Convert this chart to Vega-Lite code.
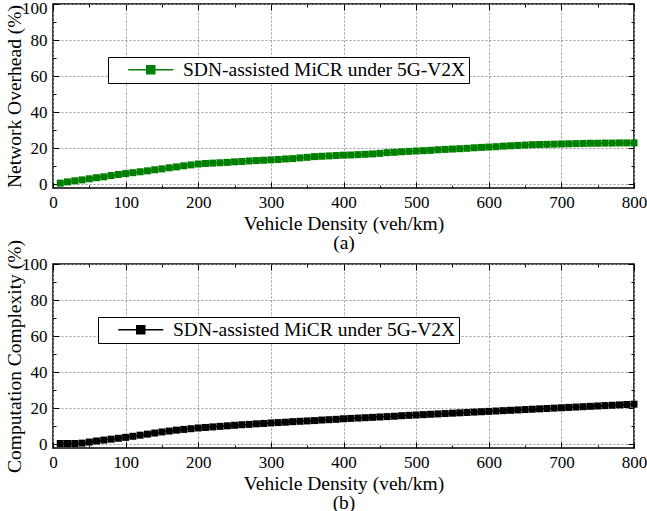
{
  "$schema": "https://vega.github.io/schema/vega-lite/v6.json",
  "padding": {"left": 3, "top": -2, "right": 0, "bottom": 0},
  "config": {
    "font": "Liberation Serif",
    "view": {"stroke": "black", "strokeWidth": 1.5},
    "axis": {
      "labelFont": "Liberation Serif", "labelFontSize": 17, "labelColor": "black",
      "titleFont": "Liberation Serif", "titleFontSize": 19.5, "titleFontWeight": "normal", "titleColor": "black",
      "tickColor": "black", "tickWidth": 1, "domain": false,
      "gridColor": "#9a9a9a", "gridDash": [2, 2], "gridWidth": 1,
      "labelFlush": false, "labelOverlap": false
    }
  },
  "datasets": {
    "overhead": [
      {"density": 10, "value": 0.7}, {"density": 20, "value": 1.4}, {"density": 30, "value": 2.0}, {"density": 40, "value": 2.5},
      {"density": 50, "value": 3.1}, {"density": 60, "value": 3.7}, {"density": 70, "value": 4.2}, {"density": 80, "value": 4.9},
      {"density": 90, "value": 5.5}, {"density": 100, "value": 6.0}, {"density": 110, "value": 6.5}, {"density": 120, "value": 7.0},
      {"density": 130, "value": 7.5}, {"density": 140, "value": 8.1}, {"density": 150, "value": 8.6}, {"density": 160, "value": 9.2},
      {"density": 170, "value": 9.7}, {"density": 180, "value": 10.3}, {"density": 190, "value": 10.8}, {"density": 200, "value": 11.3},
      {"density": 210, "value": 11.6}, {"density": 220, "value": 11.8}, {"density": 230, "value": 12.0}, {"density": 240, "value": 12.2},
      {"density": 250, "value": 12.5}, {"density": 260, "value": 12.7}, {"density": 270, "value": 13.0}, {"density": 280, "value": 13.2},
      {"density": 290, "value": 13.4}, {"density": 300, "value": 13.6}, {"density": 310, "value": 13.8}, {"density": 320, "value": 14.1},
      {"density": 330, "value": 14.3}, {"density": 340, "value": 14.7}, {"density": 350, "value": 15.0}, {"density": 360, "value": 15.4},
      {"density": 370, "value": 15.6}, {"density": 380, "value": 15.8}, {"density": 390, "value": 16.0}, {"density": 400, "value": 16.2},
      {"density": 410, "value": 16.3}, {"density": 420, "value": 16.5}, {"density": 430, "value": 16.7}, {"density": 440, "value": 16.9},
      {"density": 450, "value": 17.2}, {"density": 460, "value": 17.6}, {"density": 470, "value": 17.8}, {"density": 480, "value": 18.1},
      {"density": 490, "value": 18.3}, {"density": 500, "value": 18.5}, {"density": 510, "value": 18.7}, {"density": 520, "value": 18.9},
      {"density": 530, "value": 19.2}, {"density": 540, "value": 19.4}, {"density": 550, "value": 19.6}, {"density": 560, "value": 19.8},
      {"density": 570, "value": 20.0}, {"density": 580, "value": 20.3}, {"density": 590, "value": 20.5}, {"density": 600, "value": 20.7},
      {"density": 610, "value": 20.9}, {"density": 620, "value": 21.2}, {"density": 630, "value": 21.4}, {"density": 640, "value": 21.6},
      {"density": 650, "value": 21.8}, {"density": 660, "value": 22.0}, {"density": 670, "value": 22.1}, {"density": 680, "value": 22.2},
      {"density": 690, "value": 22.3}, {"density": 700, "value": 22.4}, {"density": 710, "value": 22.5}, {"density": 720, "value": 22.6},
      {"density": 730, "value": 22.7}, {"density": 740, "value": 22.8}, {"density": 750, "value": 22.8}, {"density": 760, "value": 22.9},
      {"density": 770, "value": 22.9}, {"density": 780, "value": 23.0}, {"density": 790, "value": 23.0}, {"density": 800, "value": 23.0}
    ],
    "complexity": [
      {"density": 10, "value": 0.5}, {"density": 20, "value": 0.5}, {"density": 30, "value": 0.5}, {"density": 40, "value": 0.7},
      {"density": 50, "value": 1.3}, {"density": 60, "value": 1.9}, {"density": 70, "value": 2.4}, {"density": 80, "value": 2.9},
      {"density": 90, "value": 3.4}, {"density": 100, "value": 3.9}, {"density": 110, "value": 4.5}, {"density": 120, "value": 5.1},
      {"density": 130, "value": 5.7}, {"density": 140, "value": 6.3}, {"density": 150, "value": 6.9}, {"density": 160, "value": 7.4},
      {"density": 170, "value": 7.9}, {"density": 180, "value": 8.3}, {"density": 190, "value": 8.7}, {"density": 200, "value": 9.1},
      {"density": 210, "value": 9.4}, {"density": 220, "value": 9.7}, {"density": 230, "value": 10.0}, {"density": 240, "value": 10.3},
      {"density": 250, "value": 10.6}, {"density": 260, "value": 10.9}, {"density": 270, "value": 11.1}, {"density": 280, "value": 11.4},
      {"density": 290, "value": 11.6}, {"density": 300, "value": 11.9}, {"density": 310, "value": 12.1}, {"density": 320, "value": 12.3},
      {"density": 330, "value": 12.6}, {"density": 340, "value": 12.8}, {"density": 350, "value": 13.0}, {"density": 360, "value": 13.2},
      {"density": 370, "value": 13.5}, {"density": 380, "value": 13.7}, {"density": 390, "value": 13.9}, {"density": 400, "value": 14.2},
      {"density": 410, "value": 14.4}, {"density": 420, "value": 14.6}, {"density": 430, "value": 14.8}, {"density": 440, "value": 15.0},
      {"density": 450, "value": 15.2}, {"density": 460, "value": 15.4}, {"density": 470, "value": 15.6}, {"density": 480, "value": 15.9},
      {"density": 490, "value": 16.1}, {"density": 500, "value": 16.3}, {"density": 510, "value": 16.5}, {"density": 520, "value": 16.7},
      {"density": 530, "value": 16.9}, {"density": 540, "value": 17.1}, {"density": 550, "value": 17.3}, {"density": 560, "value": 17.5},
      {"density": 570, "value": 17.7}, {"density": 580, "value": 17.9}, {"density": 590, "value": 18.1}, {"density": 600, "value": 18.3},
      {"density": 610, "value": 18.5}, {"density": 620, "value": 18.7}, {"density": 630, "value": 18.9}, {"density": 640, "value": 19.1},
      {"density": 650, "value": 19.3}, {"density": 660, "value": 19.5}, {"density": 670, "value": 19.7}, {"density": 680, "value": 19.9},
      {"density": 690, "value": 20.1}, {"density": 700, "value": 20.3}, {"density": 710, "value": 20.5}, {"density": 720, "value": 20.7},
      {"density": 730, "value": 20.9}, {"density": 740, "value": 21.1}, {"density": 750, "value": 21.3}, {"density": 760, "value": 21.5},
      {"density": 770, "value": 21.7}, {"density": 780, "value": 21.9}, {"density": 790, "value": 22.1}, {"density": 800, "value": 22.3}
    ]
  },
  "spacing": 76,
  "bounds": "flush",
  "resolve": {"scale": {"color": "independent"}},
  "vconcat": [
    {
      "width": 581, "height": 184,
      "data": {"name": "overhead"},
      "resolve": {"axis": {"x": "independent", "y": "independent"}},
      "layer": [
        {
          "mark": {"type": "line", "strokeWidth": 1.5},
          "encoding": {
            "x": {"field": "density", "type": "quantitative", "scale": {"domain": [0, 800], "nice": false},
              "axis": {"values": [0, 50, 100, 150, 200, 250, 300, 350, 400, 450, 500, 550, 600, 650, 700, 750, 800],
                "labelExpr": "datum.value % 100 === 0 ? datum.label : ''", "grid": true,
                "gridOpacity": {"condition": {"test": "datum.value % 100 === 0", "value": 1}, "value": 0},
                "tickSize": {"condition": {"test": "datum.value % 100 === 0", "value": -6}, "value": -3},
                "labelPadding": 12, "title": ["Vehicle Density (veh/km)", "(a)"], "titleLineHeight": 19, "titlePadding": 1}},
            "y": {"field": "value", "type": "quantitative", "scale": {"domain": [-2, 100], "nice": false, "zero": false},
              "axis": {"values": [0, 10, 20, 30, 40, 50, 60, 70, 80, 90, 100],
                "labelExpr": "datum.value % 20 === 0 ? datum.label : ''", "grid": true,
                "gridOpacity": {"condition": {"test": "datum.value % 20 === 0", "value": 1}, "value": 0},
                "tickSize": {"condition": {"test": "datum.value % 20 === 0", "value": -6}, "value": -3},
                "labelOffset": {"condition": {"test": "datum.value === 100", "value": 4}, "value": 0},
                "labelPadding": 12, "title": "Network Overhead (%)", "titlePadding": -3}},
            "color": {"datum": "SDN-assisted MiCR under 5G-V2X", "scale": {"range": ["#008000"]},
              "legend": {"title": null, "orient": "none", "legendX": 55, "legendY": 53, "strokeColor": "black", "fillColor": "white",
                "padding": 3, "cornerRadius": 0, "symbolType": "M-3,0H3M-0.533,-0.533H0.533V0.533H-0.533Z", "symbolSize": 225,
                "symbolStrokeWidth": 1.5, "symbolOffset": 30, "labelFont": "Liberation Serif", "labelFontSize": 19.5,
                "labelOffset": 22.5, "labelColor": "black", "labelLimit": 400,
                "encode": {"symbols": {"update": {"fill": {"value": "#008000"}, "stroke": {"value": "#008000"}}}}}}
          }
        },
        {
          "mark": {"type": "point", "shape": "square", "size": 49, "filled": true, "opacity": 1, "color": "#008000"},
          "encoding": {
            "x": {"field": "density", "type": "quantitative",
              "axis": {"orient": "top", "values": [0, 50, 100, 150, 200, 250, 300, 350, 400, 450, 500, 550, 600, 650, 700, 750, 800],
                "labels": false, "title": null, "grid": false,
                "tickSize": {"condition": {"test": "datum.value % 100 === 0", "value": -6}, "value": -3}}},
            "y": {"field": "value", "type": "quantitative",
              "axis": {"orient": "right", "values": [0, 10, 20, 30, 40, 50, 60, 70, 80, 90, 100],
                "labels": false, "title": null, "grid": false,
                "tickSize": {"condition": {"test": "datum.value % 20 === 0", "value": -6}, "value": -3}}}
          }
        }
      ]
    },
    {
      "width": 581, "height": 184,
      "data": {"name": "complexity"},
      "resolve": {"axis": {"x": "independent", "y": "independent"}},
      "layer": [
        {
          "mark": {"type": "line", "strokeWidth": 1.5},
          "encoding": {
            "x": {"field": "density", "type": "quantitative", "scale": {"domain": [0, 800], "nice": false},
              "axis": {"values": [0, 50, 100, 150, 200, 250, 300, 350, 400, 450, 500, 550, 600, 650, 700, 750, 800],
                "labelExpr": "datum.value % 100 === 0 ? datum.label : ''", "grid": true,
                "gridOpacity": {"condition": {"test": "datum.value % 100 === 0", "value": 1}, "value": 0},
                "tickSize": {"condition": {"test": "datum.value % 100 === 0", "value": -6}, "value": -3},
                "labelPadding": 12, "title": ["Vehicle Density (veh/km)", "(b)"], "titleLineHeight": 19, "titlePadding": 1}},
            "y": {"field": "value", "type": "quantitative", "scale": {"domain": [-2, 100], "nice": false, "zero": false},
              "axis": {"values": [0, 10, 20, 30, 40, 50, 60, 70, 80, 90, 100],
                "labelExpr": "datum.value % 20 === 0 ? datum.label : ''", "grid": true,
                "gridOpacity": {"condition": {"test": "datum.value % 20 === 0", "value": 1}, "value": 0},
                "tickSize": {"condition": {"test": "datum.value % 20 === 0", "value": -6}, "value": -3},
                "labelPadding": 12, "title": "Computation Complexity (%)", "titlePadding": -3}},
            "color": {"datum": "SDN-assisted MiCR under 5G-V2X", "scale": {"range": ["#000000"]},
              "legend": {"title": null, "orient": "none", "legendX": 45, "legendY": 53, "strokeColor": "black", "fillColor": "white",
                "padding": 3, "cornerRadius": 0, "symbolType": "M-3,0H3M-0.533,-0.533H0.533V0.533H-0.533Z", "symbolSize": 225,
                "symbolStrokeWidth": 1.5, "symbolOffset": 30, "labelFont": "Liberation Serif", "labelFontSize": 19.5,
                "labelOffset": 22.5, "labelColor": "black", "labelLimit": 400,
                "encode": {"symbols": {"update": {"fill": {"value": "#000000"}, "stroke": {"value": "#000000"}}}}}}
          }
        },
        {
          "mark": {"type": "point", "shape": "square", "size": 49, "filled": true, "opacity": 1, "color": "#000000"},
          "encoding": {
            "x": {"field": "density", "type": "quantitative",
              "axis": {"orient": "top", "values": [0, 50, 100, 150, 200, 250, 300, 350, 400, 450, 500, 550, 600, 650, 700, 750, 800],
                "labels": false, "title": null, "grid": false,
                "tickSize": {"condition": {"test": "datum.value % 100 === 0", "value": -6}, "value": -3}}},
            "y": {"field": "value", "type": "quantitative",
              "axis": {"orient": "right", "values": [0, 10, 20, 30, 40, 50, 60, 70, 80, 90, 100],
                "labels": false, "title": null, "grid": false,
                "tickSize": {"condition": {"test": "datum.value % 20 === 0", "value": -6}, "value": -3}}}
          }
        }
      ]
    }
  ]
}
